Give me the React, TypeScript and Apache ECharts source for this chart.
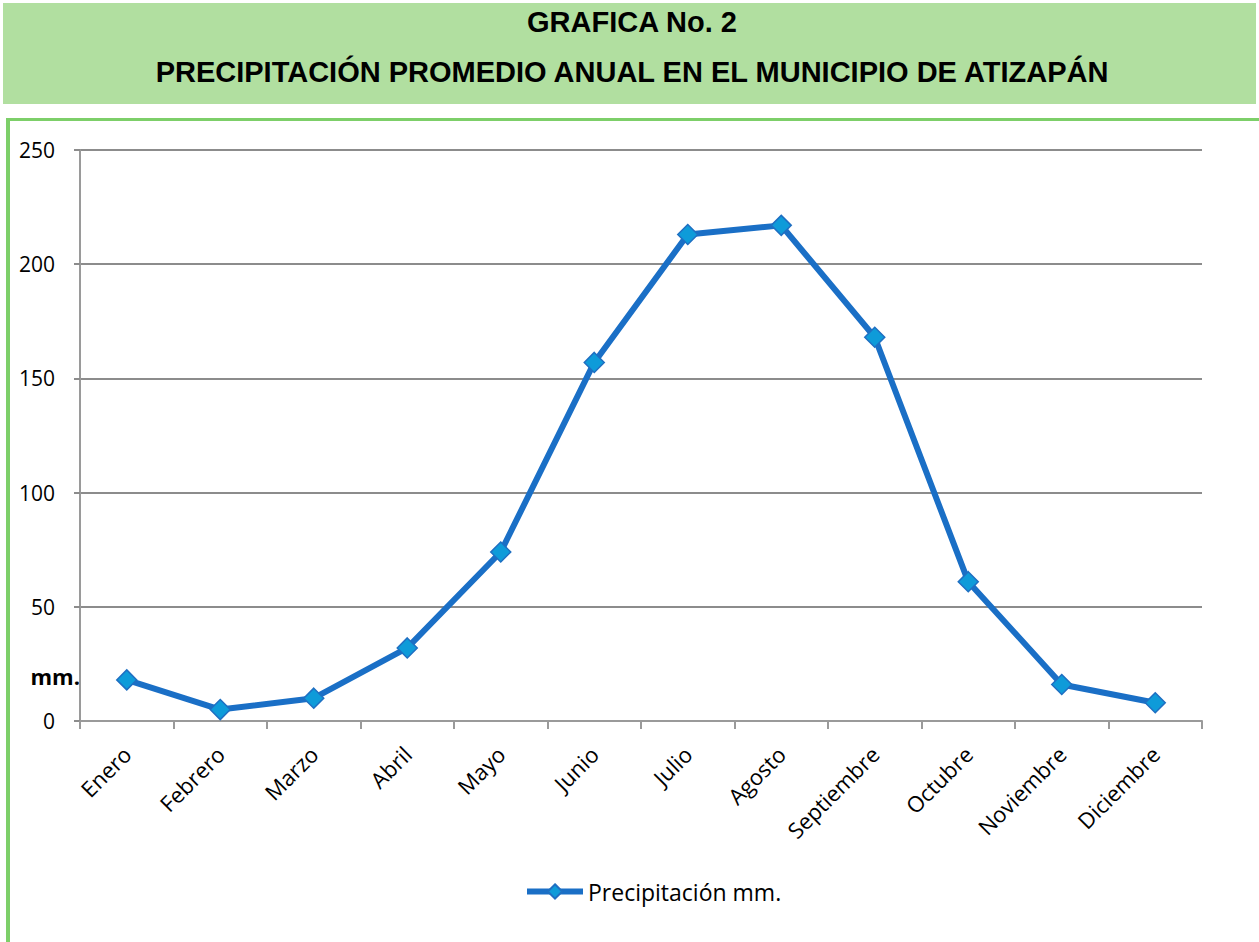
import React, { useEffect, useRef } from "react";
import * as echarts from "echarts";

const months = ["Enero", "Febrero", "Marzo", "Abril", "Mayo", "Junio", "Julio", "Agosto", "Septiembre", "Octubre", "Noviembre", "Diciembre"];
const precipitacion = [18, 5, 10, 32, 74, 157, 213, 217, 168, 61, 16, 8];
const seriesName = "Precipitación mm.";
const titleLine1 = "GRAFICA No. 2";
const titleLine2 = "PRECIPITACIÓN PROMEDIO ANUAL EN EL MUNICIPIO DE ATIZAPÁN";

export default function App() {
  const ref = useRef<HTMLDivElement>(null);
  useEffect(() => {
    if (!ref.current) return;
    const chart = echarts.init(ref.current, undefined, { renderer: "svg" });
    const font = "'Open Sans', 'Noto Sans', sans-serif";
    chart.setOption({
      animation: false,
      backgroundColor: "#ffffff",
      graphic: [
        { type: "rect", shape: { x: 3, y: 3, width: 1253, height: 101 }, style: { fill: "#b1dfa0" }, z: 0 },
        { type: "text", x: 632, y: 22, style: { text: titleLine1, fill: "#000", font: "bold 29px 'Liberation Sans', Arial, sans-serif", textAlign: "center", textVerticalAlign: "middle" } },
        { type: "text", x: 632, y: 72, style: { text: titleLine2, fill: "#000", font: "bold 29px 'Liberation Sans', Arial, sans-serif", textAlign: "center", textVerticalAlign: "middle" } },
        { type: "rect", shape: { x: 6, y: 118, width: 1253, height: 3 }, style: { fill: "#7dcf69" } },
        { type: "rect", shape: { x: 6, y: 118, width: 4, height: 824 }, style: { fill: "#7dcf69" } },
        { type: "text", x: 80, y: 676, style: { text: "mm.", fill: "#000", font: "bold 22px " + font, textAlign: "right", textVerticalAlign: "middle" } },
      ],
      grid: { left: 80, right: 57, top: 150, bottom: 221, containLabel: false },
      legend: {
        data: [seriesName],
        top: 875,
        left: 519,
        itemWidth: 56,
        itemHeight: 18,
        itemGap: 4,
        lineStyle: { width: 6 },
        textStyle: { fontFamily: font, fontSize: 23, color: "#000" },
      },
      xAxis: {
        type: "category",
        data: months,
        boundaryGap: true,
        axisLine: { lineStyle: { color: "#9a9a9a", width: 2 } },
        axisTick: { show: true, length: 8, interval: 0, lineStyle: { color: "#9a9a9a", width: 2 } },
        axisLabel: { interval: 0, rotate: 45, fontFamily: font, fontSize: 22, color: "#000", margin: 29 },
      },
      yAxis: {
        type: "value",
        min: 0,
        max: 250,
        interval: 50,
        axisLine: { show: true, lineStyle: { color: "#9a9a9a", width: 2 } },
        axisTick: { show: true, length: 6, lineStyle: { color: "#8c8c8c", width: 2 } },
        axisLabel: { fontFamily: font, fontSize: 21, color: "#000", margin: 25 },
        splitLine: { show: true, lineStyle: { color: "#8c8c8c", width: 2 } },
      },
      series: [
        {
          name: seriesName,
          type: "line",
          data: precipitacion,
          symbol: "diamond",
          symbolSize: 20,
          lineStyle: { color: "#1a6fc6", width: 6 },
          itemStyle: { color: "#0e9bd9", borderColor: "#1f6fc2", borderWidth: 1.5 },
        },
      ],
    });
    return () => chart.dispose();
  }, []);
  return <div ref={ref} style={{ position: "absolute", left: 0, top: 0, width: 1259, height: 942 }} />;
}
